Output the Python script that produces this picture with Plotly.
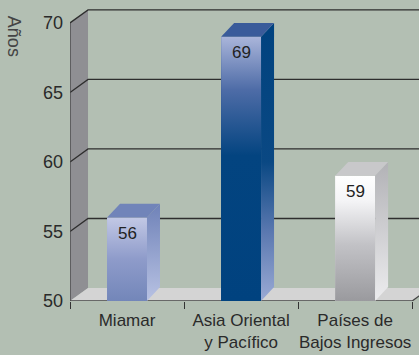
import plotly.graph_objects as go

# ---- data ----
categories = ["Miamar", "Asia Oriental<br>y Pacífico", "Países de<br>Bajos Ingresos"]
values = [56, 69, 59]
y_ticks = [50, 55, 60, 65, 70]
y_title = "Años"

# ---- style ----
BG = "#b3bfb3"
front_colors = ["#8b98c7", "#16467f", "#cdcdcd"]
front_scales = [
    [[0, "#7386b9"], [0.5, "#8e9bca"], [1, "#c2c8e5"]],
    [[0, "#00427f"], [0.55, "#034480"], [0.8, "#4e6ca7"], [1, "#aab5da"]],
    [[0, "#9a9a9e"], [0.45, "#c2c2c6"], [0.8, "#f4f4f6"], [1, "#ffffff"]],
]
side_scales = [
    [[0, "#b8c2e3"], [1, "#6f82b8"]],
    [[0, "#9aaad5"], [0.25, "#5a78b0"], [0.5, "#0a4883"], [1, "#00427f"]],
    [[0, "#ececee"], [1, "#b2b2b6"]],
]
top_colors = ["#7184b9", "#3a5b9a", "#c8c8ca"]
FONT = "Liberation Sans"
FS = 17
BAR_W = 0.35
BDX, BDY = 0.114, 1.0     # bar depth (x units, y units)
WDX, WDY = 0.158, 0.935   # back wall depth
YMIN, YMAX = 50, 71
XMIN, XMAX = -0.5, 2.56
XEND = len(categories) - 0.5

xs = list(range(len(categories)))

fig = go.Figure()
fig.add_trace(go.Bar(
    x=xs, y=values, width=BAR_W,
    marker=dict(color=front_colors, line=dict(width=0)),
    hoverinfo="skip",
))

# gradient shading of the bar faces (front and side), derived from the values
for i, v in enumerate(values):
    r = xs[i] + BAR_W / 2
    l = xs[i] - BAR_W / 2
    fig.add_trace(go.Scatter(
        x=[l, r, r, l, l], y=[YMIN, YMIN, v, v, YMIN], mode="none", fill="toself",
        fillgradient=dict(type="vertical", colorscale=front_scales[i], start=YMIN, stop=v),
        hoverinfo="skip", showlegend=False))
    fig.add_trace(go.Scatter(
        x=[r, r, r + BDX, r + BDX, r], y=[YMIN, v, v + BDY, YMIN + BDY, YMIN],
        mode="none", fill="toself",
        fillgradient=dict(type="vertical", colorscale=side_scales[i], start=YMIN, stop=v + BDY),
        hoverinfo="skip", showlegend=False))

shapes = []
shapes.append(dict(type="path", layer="below", line=dict(width=0), fillcolor="#8f8f93",
                   path=f"M {XMIN},{YMIN} L {XMIN},{y_ticks[-1]} L {XMIN+WDX},{y_ticks[-1]+WDY} L {XMIN+WDX},{YMIN+WDY} Z"))
shapes.append(dict(type="path", layer="below", line=dict(width=0), fillcolor="#d4d4d4",
                   path=f"M {XMIN},{YMIN} L {XEND},{YMIN} L {XEND+WDX},{YMIN+WDY} L {XMIN+WDX},{YMIN+WDY} Z"))
for v in y_ticks[1:]:
    shapes.append(dict(type="path", layer="below", line=dict(color="#2e2e2e", width=1.3),
                       path=f"M {XMIN},{v} L {XMIN+WDX},{v+WDY} L {XMAX+0.3},{v+WDY}"))
shapes.append(dict(type="line", layer="below", x0=XMIN, x1=XMIN, y0=YMIN, y1=y_ticks[-1],
                   line=dict(color="#444444", width=1.3)))
shapes.append(dict(type="path", layer="below", line=dict(color="#444444", width=1.3),
                   path=f"M {XMIN},{YMIN} L {XEND},{YMIN} L {XEND+WDX},{YMIN+WDY}"))
for i, v in enumerate(values):
    r = xs[i] + BAR_W / 2
    l = xs[i] - BAR_W / 2
    shapes.append(dict(type="path", layer="above", line=dict(width=0), fillcolor=top_colors[i],
                       path=f"M {l},{v} L {r},{v} L {r+BDX},{v+BDY} L {l+BDX},{v+BDY} Z"))

annotations = [dict(text=str(v), x=xs[i], y=v, xref="x", yref="y", xanchor="center",
                    yanchor="top", yshift=-4, showarrow=False,
                    font=dict(family=FONT, size=FS, color="#222222"))
               for i, v in enumerate(values)]
annotations.append(dict(text=y_title, textangle=90, xref="paper", yref="paper",
                        x=-0.16, y=0.9075, xanchor="center", yanchor="middle",
                        showarrow=False, font=dict(family=FONT, size=18, color="#444444")))

fig.update_layout(
    width=419, height=355,
    margin=dict(l=70, r=0, t=9, b=54),
    paper_bgcolor=BG, plot_bgcolor=BG,
    showlegend=False,
    font=dict(family=FONT, size=FS, color="#222222"),
    shapes=shapes,
    annotations=annotations,
    bargap=0,
    xaxis=dict(range=[XMIN, XMAX], tickvals=xs, ticktext=categories, ticks="",
               showgrid=False, zeroline=False, showline=False, ticklabelstandoff=7,
               tickfont=dict(family=FONT, size=FS, color="#2a2a2a"),
               minor=dict(tickvals=[XMIN + k for k in range(len(categories) + 1)],
                          ticks="outside", ticklen=7, tickcolor="#333333", tickwidth=1.3,
                          showgrid=False)),
    yaxis=dict(range=[YMIN, YMAX], tickvals=y_ticks, ticks="", showgrid=False,
               zeroline=False, showline=False, ticklabelstandoff=6,
               tickfont=dict(family=FONT, size=18, color="#2a2a2a")),
)

fig.write_html("out.html", config={"displayModeBar": False},
               post_script="document.body.style.margin='0';document.body.style.background='%s';" % BG)
